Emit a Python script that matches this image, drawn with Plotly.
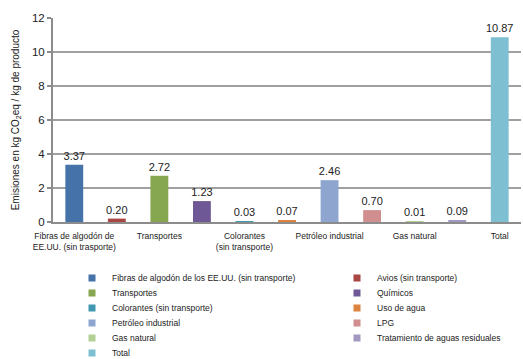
import plotly.graph_objects as go

names = [
    "Fibras de algodón de los EE.UU. (sin transporte)",
    "Avios (sin transporte)",
    "Transportes",
    "Químicos",
    "Colorantes (sin transporte)",
    "Uso de agua",
    "Petróleo industrial",
    "LPG",
    "Gas natural",
    "Tratamiento de aguas residuales",
    "Total",
]
values = [3.37, 0.20, 2.72, 1.23, 0.03, 0.07, 2.46, 0.70, 0.01, 0.09, 10.87]
colors = ["#4573a9", "#a94542", "#86a64f", "#6e5895", "#3f98b0", "#dc843f",
          "#8ea5d0", "#d08f8e", "#b4cf93", "#a298c0", "#7ebfd2"]
tick_idx = [0, 2, 4, 6, 8, 10]
tick_labels = ["Fibras de algodón de<br>EE.UU. (sin trasporte)", "Transportes",
               "Colorantes<br>(sin transporte)", "Petróleo industrial",
               "Gas natural", "Total"]
y_ticks = [0, 2, 4, 6, 8, 10, 12]

FONT = "Liberation Sans Narrow, Arial Narrow, Liberation Sans, Arial, sans-serif"
x = list(range(len(values)))

# plot-area geometry (pixels) used to place legend rows in paper coordinates
PLOT_L, PLOT_W, PLOT_B, PLOT_H = 53, 468, 222, 204
ROW0, ROW_STEP = 278, 15.0
COL_X = [72, 337]

fig = go.Figure()
fig.add_trace(go.Bar(
    x=x, y=values, width=0.42,
    marker=dict(color=colors, line=dict(width=0)),
    text=[f"{v:.2f}" for v in values], textposition="outside",
    textfont=dict(size=11, color="#222222", family=FONT),
    constraintext="none", cliponaxis=False, showlegend=False,
))

legends = {}
for i, (n, c) in enumerate(zip(names, colors)):
    key = "legend" if i == 0 else f"legend{i + 1}"
    fig.add_trace(go.Scatter(
        x=[None], y=[None], mode="markers", name=n,
        marker=dict(symbol="square", size=7, color=c),
        legend=key,
    ))
    row, col = divmod(i, 2)
    py = ROW0 + row * ROW_STEP
    legends[key] = dict(
        orientation="v", yanchor="middle", xanchor="left",
        x=(COL_X[col] - PLOT_L) / PLOT_W,
        y=(PLOT_B - py) / PLOT_H,
        font=dict(size=8.5, color="#222222", family=FONT),
        bgcolor="rgba(0,0,0,0)", itemwidth=30,
    )

fig.update_layout(
    width=523, height=359,
    margin=dict(l=53, r=2, t=18, b=137, autoexpand=False),
    plot_bgcolor="white", paper_bgcolor="white",
    font=dict(family=FONT, color="#222222"),
    xaxis=dict(
        range=[-0.5, 10.5], tickmode="array", tickvals=tick_idx, ticktext=tick_labels,
        tickfont=dict(size=8.5, color="#222222", family=FONT),
        showline=True, linecolor="#8c8c8c", linewidth=2, showgrid=False,
        ticks="", zeroline=False, ticklabelstandoff=5,
    ),
    yaxis=dict(
        range=[0, 12], tickmode="array", tickvals=y_ticks,
        tickfont=dict(size=11.5, color="#222222", family=FONT),
        showline=True, linecolor="#8c8c8c", linewidth=2,
        showgrid=True, gridcolor="#a0a0a0", gridwidth=1.5,
        ticks="outside", ticklen=4, tickcolor="#8c8c8c", tickwidth=1.5,
        zeroline=False,
        title=dict(text="Emisiones en kg CO<sub>2</sub>eq / kg de producto",
                   font=dict(size=10, color="#222222", family=FONT), standoff=10),
    ),
    **legends,
)

fig.write_html("out.html")
